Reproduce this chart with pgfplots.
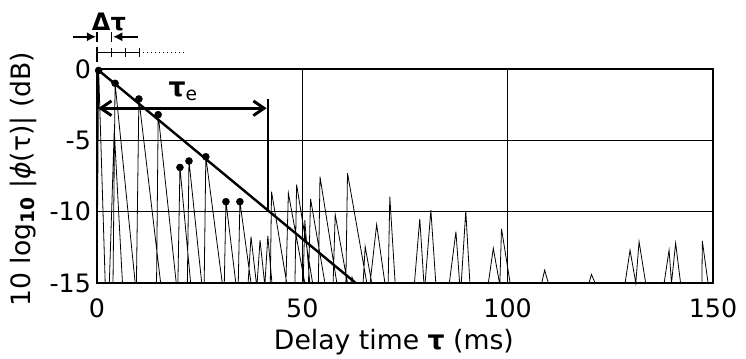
\documentclass[border=0pt]{standalone}
\usepackage{pgfplots}
\pgfplotsset{compat=1.18}
\usepackage{fontspec}
\setmainfont{DejaVu Sans}
\usetikzlibrary{arrows.meta}
\begin{document}
\begin{tikzpicture}
\begin{axis}[
 width=462pt, height=160.5pt, scale only axis,
 xmin=0, xmax=150, ymin=-15, ymax=0,
 xtick={0,50,100,150}, ytick={-15,-10,-5,0},
 xticklabels={0,50,100,150}, yticklabels={-15,-10,-5,0},
 grid=major, grid style={black, line width=0.75pt},
 major tick length=0pt,
 axis line style={line width=1.8pt},
 tick label style={font=\fontsize{19}{22}\selectfont},
 xticklabel shift=8pt, yticklabel shift=1pt,
 label style={font=\fontsize{20}{23}\selectfont},
 xlabel={Delay time \textbf{τ} (ms)},
 ylabel={10 log\textbf{\textsubscript{10}} |\textit{ϕ}(τ)| (dB)},
 xlabel style={at={(axis description cs:0.482,-0.275)}, anchor=center},
 ylabel style={at={(axis description cs:-0.12,0.485)}, anchor=center},
 clip=false,
]
\coordinate (O) at (rel axis cs:0,0);
% echo spikes
\addplot[black, line width=0.6pt] coordinates {
(0,-15) (0.4,-0.1) (2.0,-15)
(3.0,-15) (4.2,-4.3) (6.2,-15)
(3.9,-15) (4.4,-1.0) (9.3,-15)
(9.6,-15) (10.2,-2.1) (15.5,-15)
(14.5,-15) (14.9,-3.2) (19.3,-15)
(19.7,-15) (20.2,-6.9) (22.8,-15)
(22.0,-15) (22.4,-6.45) (25.5,-15)
(26.1,-15) (26.5,-6.15) (30.5,-15)
(31.0,-15) (31.4,-9.3) (33.8,-15)
(34.4,-15) (34.8,-9.3) (37.5,-15)
(36.8,-15) (37.5,-11.75) (38.8,-15)
(39.0,-15) (39.7,-12.0) (40.8,-15)
(40.9,-15) (41.6,-11.7) (42.6,-15)
(42.2,-15) (42.5,-8.6) (46.2,-15)
(46.0,-15) (46.6,-8.7) (50.6,-15)
(48.2,-15) (48.6,-8.1) (52.5,-15)
(50.2,-15) (50.6,-10.6) (51.8,-15)
(51.5,-15) (52.0,-9.1) (55.5,-15)
(53.9,-15) (54.3,-7.55) (58.4,-15)
(57.5,-15) (58.0,-10.2) (61.0,-15)
(60.6,-15) (61.0,-7.3) (65.7,-15)
(61.8,-15) (62.1,-14.6) (62.6,-15)
(64.8,-15) (65.3,-12.45) (66.9,-15)
(66.5,-15) (68.1,-10.9) (70.1,-15)
(70.9,-15) (71.3,-8.95) (72.6,-15)
(77.3,-15) (78.6,-10.5) (79.6,-15)
(79.9,-15) (81.3,-9.9) (82.5,-15)
(85.8,-15) (87.4,-11.4) (88.3,-15)
(88.7,-15) (89.8,-9.95) (90.8,-15)
(95.3,-15) (96.5,-12.57) (98.0,-15)
(98.1,-15) (98.5,-11.2) (100.6,-15)
(108.3,-15) (109.0,-14.1) (109.9,-15)
(119.8,-15) (120.4,-14.4) (121.3,-15)
(128.6,-15) (129.8,-12.7) (131.2,-15)
(131.2,-15) (132.0,-12.1) (133.6,-15)
(138.1,-15) (139.3,-12.7) (139.9,-15)
(139.9,-15) (140.9,-12.2) (142.1,-15)
(147.3,-15) (147.4,-12.05) (148.8,-15)
};
% decay line
\addplot[black, line width=1.8pt] coordinates {(0,0) (63,-15)};
% marked peaks
\addplot[only marks, mark=*, mark size=2.6pt, black] coordinates {
(0.4,-0.1) (4.4,-1.0) (10.2,-2.1) (14.9,-3.2) (20.2,-6.9) (22.4,-6.45)
(26.5,-6.15) (31.4,-9.3) (34.8,-9.3)
};
% tau_e annotation
\draw[line width=2.2pt, {Straight Barb[length=8pt,width=11pt]}-{Straight Barb[length=8pt,width=11pt]}]
  (axis cs:0.3,-2.75) -- (axis cs:41.3,-2.75);
\draw[line width=1.5pt] (axis cs:41.6,-2.1) -- (axis cs:41.6,-10);
\node[font=\fontsize{20}{22}\selectfont] at (axis cs:21,-1.55) {\textbf{τ}\textsubscript{e}};
% Delta tau annotation
\node[font=\fontsize{18}{20}\selectfont] at (axis cs:2.9,3.3) {\textbf{Δτ}};
\draw[line width=1.5pt, -{Latex[length=7pt,width=7pt]}] (axis cs:-5.9,2.26) -- (axis cs:-0.2,2.26);
\draw[line width=1.5pt, -{Latex[length=7pt,width=7pt]}] (axis cs:10.1,2.26) -- (axis cs:3.9,2.26);
\draw[line width=1pt] (axis cs:0,2.61) -- (axis cs:0,1.91);
\draw[line width=1pt] (axis cs:3.6,2.61) -- (axis cs:3.6,1.91);
\draw[line width=1pt] (axis cs:0,1.14) -- (axis cs:10.4,1.14);
\draw[line width=1pt] (axis cs:0,1.56) -- (axis cs:0,0.51);
\draw[line width=1pt] (axis cs:3.5,1.45) -- (axis cs:3.5,0.86);
\draw[line width=1pt] (axis cs:7.0,1.45) -- (axis cs:7.0,0.86);
\draw[line width=1pt] (axis cs:10.4,1.45) -- (axis cs:10.4,0.86);
\draw[line width=1pt, dotted] (axis cs:11.2,1.14) -- (axis cs:21.9,1.14);
\end{axis}
\pgfresetboundingbox
\path (O) ++(-72.75pt,-56.25pt) rectangle ++(559.5pt,268.5pt);
\end{tikzpicture}
\end{document}
